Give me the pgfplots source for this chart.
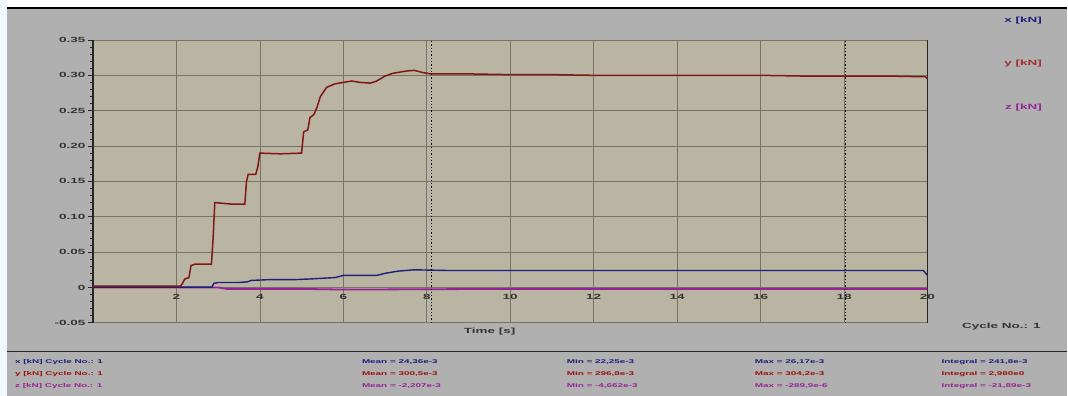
\documentclass[border=0pt]{standalone}
\usepackage{fontspec}
\setmainfont{Liberation Sans}
\newfontfamily\wf[FakeStretch=1.8]{Liberation Sans}
\usepackage{pgfplots}
\pgfplotsset{compat=1.18}
\definecolor{panel}{RGB}{176,176,176}
\definecolor{plotbg}{RGB}{186,180,162}
\definecolor{gridc}{RGB}{118,116,102}
\definecolor{xc}{RGB}{30,30,125}
\definecolor{yc}{RGB}{130,22,18}
\definecolor{zc}{RGB}{150,35,150}
\definecolor{ylab}{RGB}{170,45,45}
\pgfplotstableread{
t v
0 0.002
1 0.002
2.1 0.002
2.15 0.006
2.2 0.012
2.3 0.014
2.35 0.031
2.45 0.033
2.84 0.033
2.88 0.07
2.92 0.12
3.3 0.118
3.64 0.118
3.68 0.15
3.72 0.16
3.9 0.16
3.95 0.17
4.0 0.19
4.5 0.189
5.0 0.19
5.05 0.22
5.15 0.223
5.2 0.24
5.3 0.245
5.37 0.255
5.45 0.27
5.6 0.283
5.8 0.288
6.0 0.29
6.2 0.292
6.4 0.29
6.65 0.289
6.8 0.292
7.0 0.299
7.2 0.303
7.5 0.306
7.7 0.307
7.9 0.304
8.1 0.302
9 0.302
10 0.301
11 0.301
12 0.300
13 0.300
14 0.300
15 0.300
16 0.300
17 0.299
18 0.299
19 0.299
19.95 0.298
20 0.295
}\ydata
\pgfplotstableread{
t v
0 0.0005
2.85 0.0005
2.9 0.006
3.0 0.007
3.5 0.007
3.7 0.008
3.8 0.010
4.2 0.011
4.8 0.011
5.2 0.012
5.8 0.014
6.0 0.017
6.8 0.017
7.0 0.020
7.3 0.023
7.7 0.025
8.5 0.024
10 0.024
12 0.024
14 0.024
16 0.024
18 0.024
19.9 0.024
20 0.017
}\xdata
\pgfplotstableread{
t v
0 0.000
3.0 0.000
3.2 -0.002
5 -0.002
6 -0.003
10 -0.002
20 -0.002
}\zdata
\begin{document}
\begin{tikzpicture}[x=1pt,y=1pt]
\fill[white] (0,0) rectangle (1068,-396);
\fill[cyan!6] (0,0) rectangle (7,-396);
\fill[panel] (7,-8) rectangle (1068,-396);
\draw[black, line width=1.2pt] (7,-8) -- (1068,-8);
\draw[gray!30!black, line width=1.2pt] (7,-352) -- (1068,-352);
\begin{axis}[
  at={(93pt,-323pt)}, anchor=south west, scale only axis,
  width=835pt, height=283pt,
  xmin=0, xmax=20, ymin=-0.05, ymax=0.35,
  axis background/.style={fill=plotbg},
  xtick={2,4,6,8,10,12,14,16,18,20},
  xticklabels={2,4,6,8,10,12,14,16,18,20},
  ytick={-0.05,0,0.05,0.1,0.15,0.2,0.25,0.3,0.35},
  yticklabels={-0.05,0,0.05,0.10,0.15,0.20,0.25,0.30,0.35},
  minor y tick num=4,
  tick pos=left,
  grid=major,
  major grid style={gridc, line width=0.7pt},
  separate axis lines,
  x axis line style={gridc, line width=0.7pt},
  y axis line style={black!85, line width=1.4pt},
  tick align=outside,
  major tick length=5pt, minor tick length=2.5pt,
  xtick style={draw=none},
  ytick style={black!85, line width=0.8pt},
  /pgf/number format/assume math mode=true,
  xticklabel style={font=\wf\bfseries\fontsize{7.5}{8}\selectfont, yshift=37pt, text=black!80},
  yticklabel style={font=\wf\bfseries\fontsize{7.5}{8}\selectfont, xshift=1pt, text=black!80},
  clip=true,
]
\addplot[zc, line width=1.8pt] table[x=t,y=v] {\zdata};
\addplot[xc, line width=1.4pt] table[x=t,y=v] {\xdata};
\addplot[yc, line width=1.5pt] table[x=t,y=v] {\ydata};
\addplot[black, dotted, line width=1.3pt] coordinates {(8.12,-0.05) (8.12,0.35)};
\addplot[black, dotted, line width=1.3pt] coordinates {(18.04,-0.05) (18.04,0.35)};
\end{axis}
\node[font=\wf\bfseries\fontsize{7.5}{9}\selectfont, text=black!80] at (490,-332) {Time [s]};
\node[font=\wf\bfseries\fontsize{7.5}{9}\selectfont, text=black!80] at (1002,-327) {Cycle No.: 1};
\node[anchor=east, font=\wf\bfseries\fontsize{7.5}{9}\selectfont, text=xc] at (1046,-21) {x [kN]};
\node[anchor=east, font=\wf\bfseries\fontsize{7.5}{9}\selectfont, text=ylab] at (1046,-64) {y [kN]};
\node[anchor=east, font=\wf\bfseries\fontsize{7.5}{9}\selectfont, text=zc] at (1046,-108) {z [kN]};
\begin{scope}[every node/.style={anchor=west, font=\wf\bfseries\fontsize{5.5}{6}\selectfont, inner sep=0pt}]
\node[text=xc] at (15,-362) {x [kN] Cycle No.: 1};
\node[text=yc!80!red] at (15,-374) {y [kN] Cycle No.: 1};
\node[text=zc] at (15,-386) {z [kN] Cycle No.: 1};
\node[text=xc] at (362,-362) {Mean = 24,36e-3};
\node[text=yc!80!red] at (362,-374) {Mean = 300,5e-3};
\node[text=zc] at (362,-386) {Mean = -2,207e-3};
\node[text=xc] at (567,-362) {Min = 22,25e-3};
\node[text=yc!80!red] at (567,-374) {Min = 296,8e-3};
\node[text=zc] at (567,-386) {Min = -4,662e-3};
\node[text=xc] at (755,-362) {Max = 26,17e-3};
\node[text=yc!80!red] at (755,-374) {Max = 304,2e-3};
\node[text=zc] at (755,-386) {Max = -289,9e-6};
\node[text=xc] at (942,-362) {Integral = 241,8e-3};
\node[text=yc!80!red] at (942,-374) {Integral = 2,980e0};
\node[text=zc] at (942,-386) {Integral = -21,89e-3};
\end{scope}
\end{tikzpicture}
\end{document}
